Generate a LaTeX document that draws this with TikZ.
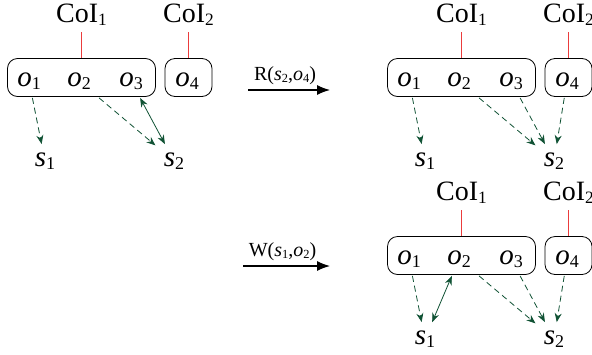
\documentclass[tikz,border=0pt]{standalone}
\usepackage{fontspec}
\setmainfont{Liberation Serif}[ItalicFont={Liberation Serif Italic},BoldFont={Liberation Serif Bold}]
\usepackage{graphicx}
\usepackage{xcolor}
\usepackage{tikz}
\usetikzlibrary{arrows.meta}

\definecolor{linkgreen}{RGB}{16,82,52}
\definecolor{coired}{RGB}{235,60,60}
\newcommand{\lowidx}[1]{\raisebox{-0.25ex}{\scalebox{0.62}{#1}}}
\newcommand{\var}[1]{{\itshape #1}}

\begin{document}
\begin{tikzpicture}[
  x=0.5pt,y=-0.5pt,
  grp/.style={draw,rounded corners=5pt,minimum height=19pt,inner sep=0pt},
  obj/.style={font=\fontsize{14.5}{17}\selectfont,inner sep=4pt},
  coi/.style={font=\fontsize{14}{17}\selectfont,inner sep=3pt},
  tie/.style={draw=coired,line width=0.5pt},
  flow/.style={draw=linkgreen,dash pattern=on 3pt off 2pt,-{Stealth[length=4.5pt,width=3.5pt]}},
  acc/.style={draw=linkgreen,{Stealth[length=4.5pt,width=3.5pt]}-{Stealth[length=4.5pt,width=3.5pt]}},
  op/.style={line width=0.6pt,-{Latex[length=6.5pt,width=5pt]}},
  lbl/.style={font=\fontsize{10}{12}\selectfont,inner sep=1pt}
]
\useasboundingbox (0,0) rectangle (592,354);

% the same CoI state, three times
\foreach \g/\dx/\dy in {a/0/0,b/380/0,c/380/178}{
  \begin{scope}[shift={(\dx,\dy)}]
    \node[grp,minimum width=74pt] (\g b1) at (81.5,77.5) {};
    \node[grp,minimum width=23.5pt] (\g b2) at (188.5,77.5) {};
    \node[coi] (\g c1) at (81.5,15) {CoI\lowidx{1}};
    \node[coi] (\g c2) at (188.5,15) {CoI\lowidx{2}};
    \node[obj] (\g o1) at (29,81) {\var{o}\lowidx{1}};
    \node[obj] (\g o2) at (79,81) {\var{o}\lowidx{2}};
    \node[obj] (\g o3) at (131,81) {\var{o}\lowidx{3}};
    \node[obj] (\g o4) at (187,81) {\var{o}\lowidx{4}};
    \node[obj] (\g s1) at (45,161) {\var{s}\lowidx{1}};
    \node[obj] (\g s2) at (174,161) {\var{s}\lowidx{2}};
  \end{scope}
  \draw[tie] (\g c1) -- (\g b1);
  \draw[tie] (\g c2) -- (\g b2);
  \draw[flow] (\g o1) -- (\g s1);
  \draw[flow] (\g o2) -- (\g s2);
}

\draw[acc] (ao3) -- (as2);
\draw[flow] (bo3) -- (bs2);
\draw[flow] (bo4) -- (bs2);
\draw[flow] (co3) -- (cs2);
\draw[flow] (co4) -- (cs2);
\draw[acc] (co2) -- (cs1);

% operations
\coordinate (r0) at (248,90);
\coordinate (r1) at (330,90);
\draw[op] (r0) -- node[lbl,above=1.5pt,xshift=-2pt] {R(\var{s}\lowidx{2},\var{o}\lowidx{4})} (r1);
\coordinate (w0) at (243,266);
\coordinate (w1) at (330,266);
\draw[op] (w0) -- node[lbl,above=1.5pt,xshift=-2pt] {W(\var{s}\lowidx{1},\var{o}\lowidx{2})} (w1);
\end{tikzpicture}
\end{document}
